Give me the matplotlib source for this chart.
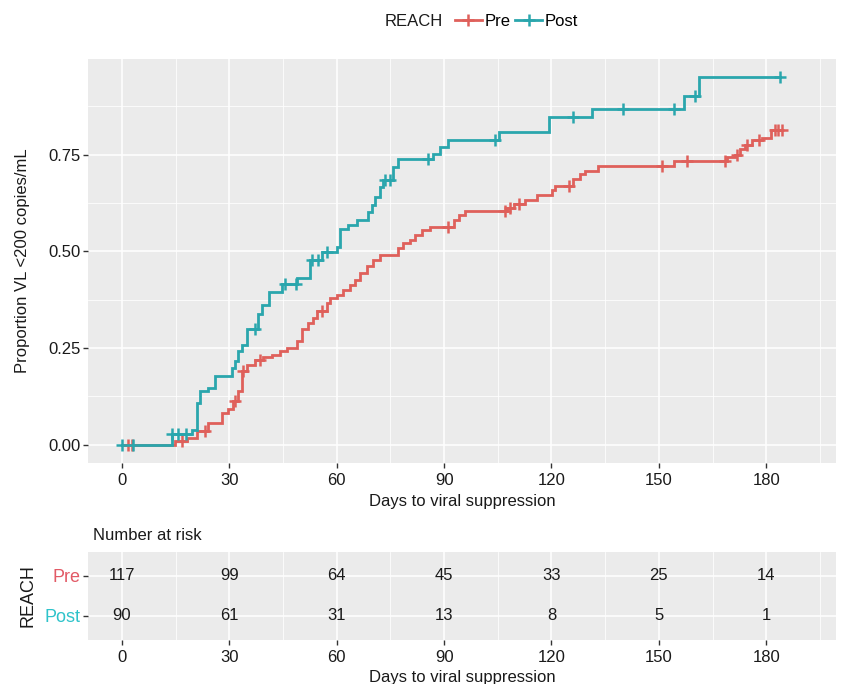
import numpy as np
import matplotlib
matplotlib.use("Agg")
import matplotlib.pyplot as plt
from matplotlib.lines import Line2D

plt.rcParams['font.family'] = ['Liberation Sans', 'DejaVu Sans']

# ---------------- data ----------------
pre_times = [0, 14.8, 18.1, 20.9, 24.1, 27.9, 29.7, 31.1, 32.5, 33.4, 34.8, 37.2, 39.5,
             41.8, 44.2, 46.0, 48.8, 50.2, 52.1, 53.5, 54.4, 57.2, 58.1, 60.0, 61.8, 63.7,
             65.1, 66.5, 68.4, 70.2, 72.1, 77.2, 78.6, 80.5, 81.9, 83.8, 86.1, 92.8, 94.2,
             95.8, 107.5, 109.5, 112.6, 115.9, 120.1, 121.0, 126.1, 128.0, 129.4, 133.1,
             154.1, 169.0, 171.3, 172.7, 174.1, 176.0, 178.8, 181.4]
pre_surv = [0, 0.009, 0.018, 0.035, 0.057, 0.082, 0.091, 0.113, 0.138, 0.190, 0.207, 0.220,
            0.226, 0.233, 0.241, 0.250, 0.267, 0.300, 0.314, 0.327, 0.345, 0.366, 0.379,
            0.387, 0.400, 0.413, 0.426, 0.443, 0.461, 0.478, 0.491, 0.508, 0.521, 0.529,
            0.542, 0.555, 0.564, 0.581, 0.594, 0.604, 0.613, 0.622, 0.632, 0.647, 0.658,
            0.669, 0.688, 0.701, 0.709, 0.722, 0.733, 0.744, 0.750, 0.765, 0.774, 0.787,
            0.793, 0.813]
pre_censor = [1.8, 2.7, 16.7, 23.2, 31.6, 33.9, 38.6, 55.8, 91.2, 107.0, 108.4, 110.8,
              125.0, 150.8, 157.8, 168.5, 171.8, 174.6, 177.9, 182.5, 183.4, 184.4]

post_times = [0, 13.9, 19.5, 20.9, 21.8, 24.1, 26.0, 30.6, 31.6, 32.5, 33.4, 34.8, 38.1,
              39.0, 41.0, 44.6, 48.8, 52.5, 55.8, 60.0, 60.9, 63.2, 65.6, 68.8, 69.8, 70.7,
              72.1, 73.0, 75.8, 77.2, 87.0, 88.9, 91.0, 105.2, 119.2, 131.3, 157.1, 161.3]
post_surv = [0, 0.027, 0.039, 0.108, 0.138, 0.147, 0.177, 0.198, 0.216, 0.241, 0.258,
             0.298, 0.338, 0.362, 0.396, 0.415, 0.432, 0.478, 0.499, 0.512, 0.559, 0.568,
             0.581, 0.602, 0.619, 0.641, 0.667, 0.684, 0.718, 0.738, 0.753, 0.770, 0.789,
             0.808, 0.847, 0.869, 0.903, 0.952]
post_censor = [0, 3.0, 14.0, 15.7, 18.0, 37.2, 45.6, 48.6, 53.0, 54.9, 57.2, 73.5, 74.9,
               85.6, 104.3, 126.1, 140.1, 154.1, 160.1, 183.9]

groups = ['Pre', 'Post']
risk_times = [0, 30, 60, 90, 120, 150, 180]
pre_risk = [117, 99, 64, 45, 33, 25, 14]
post_risk = [90, 61, 31, 13, 8, 5, 1]

x_ticks = [0, 30, 60, 90, 120, 150, 180]
y_ticks = [0.0, 0.25, 0.50, 0.75]
y_ticklabels = ['0.00', '0.25', '0.50', '0.75']

# ---------------- style ----------------
RED = '#DF605B'
TEAL = '#2AA6AD'
RED_LBL = '#E25A66'
TEAL_LBL = '#2EC3CA'
PANEL = '#EBEBEB'
TXT = '#1a1a1a'
FS = 12
LW = 2.0
MS = 8.5

W, H = 862, 684
fig = plt.figure(figsize=(W / 100, H / 100), dpi=100)


def fx(px):
    return px / W


def fy(py):
    return 1 - py / H


def style_axes(ax):
    ax.set_facecolor(PANEL)
    for s in ax.spines.values():
        s.set_visible(False)
    ax.tick_params(axis='both', length=3.5, width=1.0, color='#333333',
                   labelsize=FS, labelcolor=TXT, pad=2)
    ax.tick_params(axis='x', pad=4)
    ax.set_axisbelow(True)


xlim = (-9.5, 199.5)

# ---------------- main KM plot ----------------
ax = fig.add_axes([fx(88), fy(463), fx(836 - 88), (463 - 59) / H])
style_axes(ax)
ax.set_xlim(*xlim)
ax.set_ylim(-0.0475, 0.9975)
ax.set_xticks(x_ticks)
ax.set_yticks(y_ticks)
ax.set_yticklabels(y_ticklabels)
ax.set_xticks([15, 45, 75, 105, 135, 165, 195], minor=True)
ax.set_yticks([0.125, 0.375, 0.625, 0.875], minor=True)
ax.tick_params(which='minor', length=0)
ax.grid(which='major', color='white', linewidth=1.1)
ax.grid(which='minor', color='white', linewidth=0.55)


def draw_curve(times, surv, censor, color):
    t = np.asarray(times, float)
    s = np.asarray(surv, float)
    c = np.asarray(censor, float)
    tend = max(t[-1], c.max())
    ax.step(np.append(t, tend), np.append(s, s[-1]), where='post',
            color=color, linewidth=LW, zorder=3, solid_joinstyle='miter')
    idx = np.searchsorted(t, c, side='right') - 1
    ax.plot(c, s[idx], linestyle='none', marker='+', markersize=MS,
            markeredgewidth=1.8, color=color, zorder=4)


draw_curve(pre_times, pre_surv, pre_censor, RED)
draw_curve(post_times, post_surv, post_censor, TEAL)

ax.set_xlabel('Days to viral suppression', fontsize=FS, color=TXT, labelpad=4)
ax.set_ylabel('Proportion VL <200 copies/mL', fontsize=FS, color=TXT, labelpad=13)

# ---------------- legend ----------------
fig.text(fx(385), fy(21), 'REACH', fontsize=FS, color=TXT, ha='left', va='center')
handles = [Line2D([], [], color=c, linewidth=LW, marker='+', markersize=MS,
                  markeredgewidth=1.8) for c in (RED, TEAL)]
fig.legend(handles, groups, loc='center left', bbox_to_anchor=(fx(455), fy(21)),
           ncol=2, frameon=False, fontsize=FS, handlelength=1.6,
           handletextpad=0.15, columnspacing=0.3, borderaxespad=0, borderpad=0)

# ---------------- risk table ----------------
ax2 = fig.add_axes([fx(88), fy(640), fx(836 - 88), (640 - 552) / H])
style_axes(ax2)
ax2.set_xlim(*xlim)
ax2.set_ylim(0.4, 2.6)
ax2.set_xticks(x_ticks)
ax2.set_xticks([15, 45, 75, 105, 135, 165, 195], minor=True)
ax2.set_yticks([2, 1])
ax2.set_yticklabels(groups)
ax2.tick_params(which='minor', length=0)
ax2.tick_params(axis='y', labelsize=13)
ax2.grid(which='major', color='white', linewidth=1.1)
ax2.grid(which='minor', axis='x', color='white', linewidth=0.55)
for lbl, c in zip(ax2.get_yticklabels(), (RED_LBL, TEAL_LBL)):
    lbl.set_color(c)
for xt, a, b in zip(risk_times, pre_risk, post_risk):
    ax2.text(xt, 2, str(a), ha='center', va='center', fontsize=FS, color=TXT)
    ax2.text(xt, 1, str(b), ha='center', va='center', fontsize=FS, color=TXT)
ax2.set_xlabel('Days to viral suppression', fontsize=FS, color=TXT, labelpad=3)
ax2.set_ylabel('REACH', fontsize=13, color=TXT, labelpad=6)
fig.text(fx(93), fy(535), 'Number at risk', fontsize=FS, color=TXT, ha='left', va='center')

fig.savefig('out.png', dpi=100)
